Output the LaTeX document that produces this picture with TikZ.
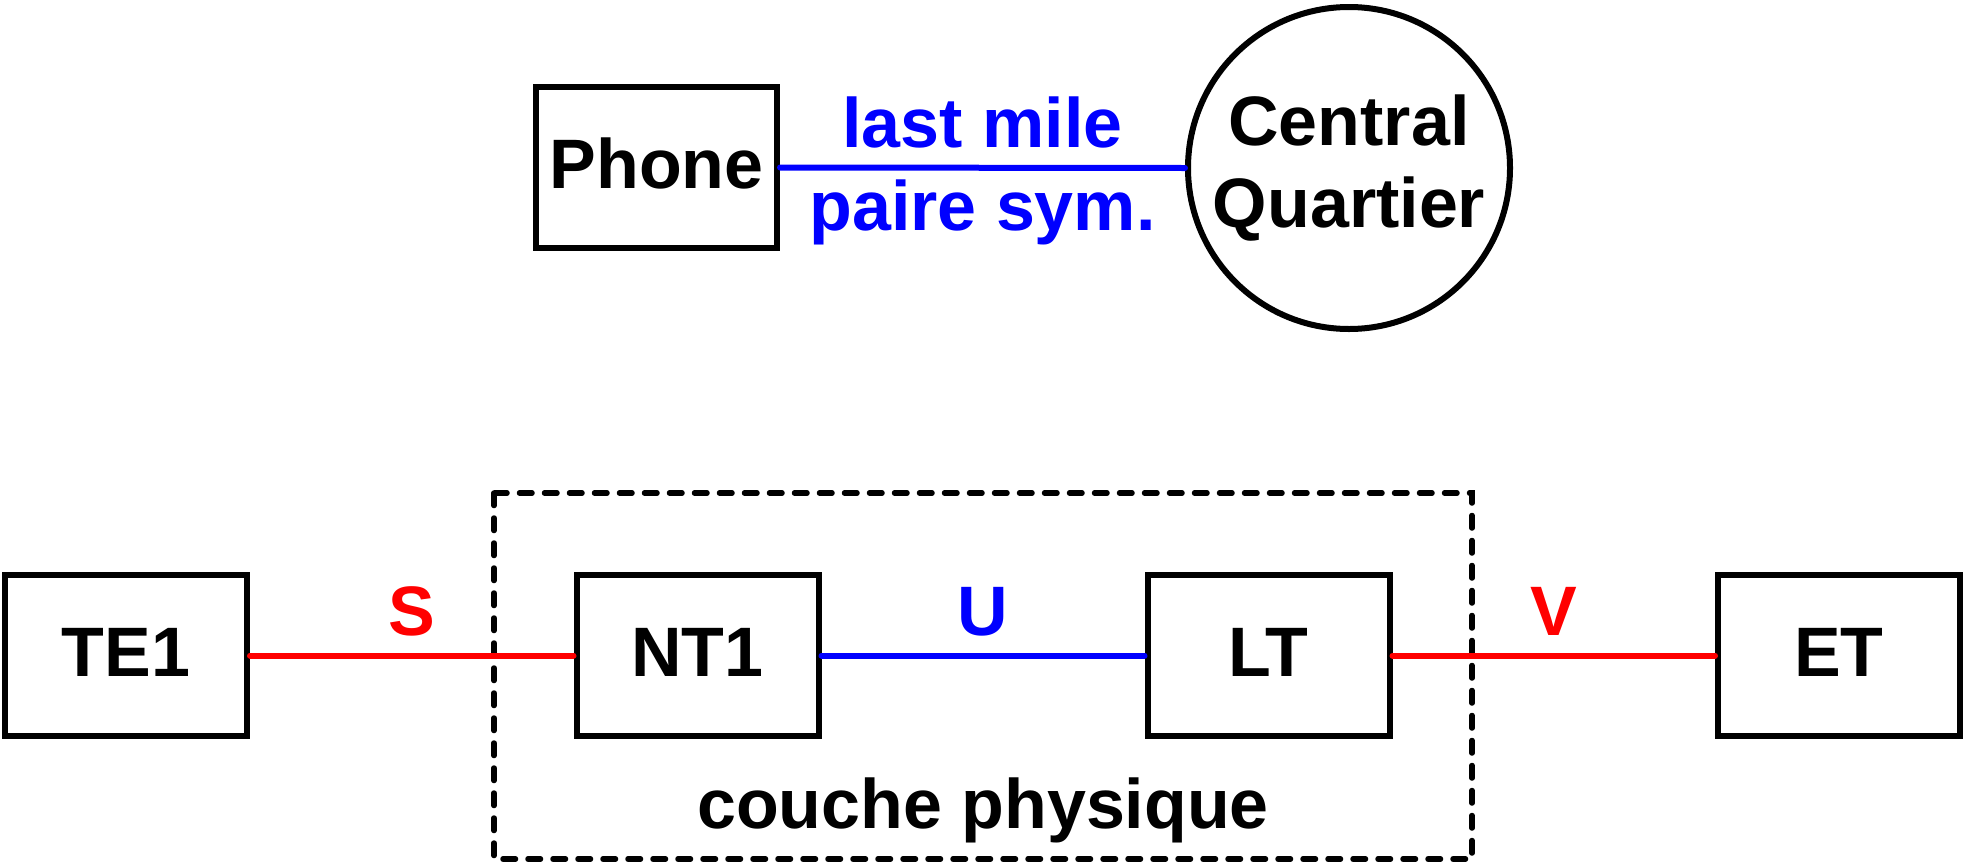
\documentclass[tikz,border=0pt]{standalone}
\usepackage{fontspec}
\setmainfont{Liberation Sans}
\begin{document}
\begin{tikzpicture}[x=1pt,y=-1pt,
  font=\fontsize{70}{82}\selectfont\bfseries,
  boxnode/.style={draw=black,line width=6pt,rectangle,inner sep=0pt,text height=50pt,text depth=8pt},
  circnode/.style={draw=black,line width=6pt,circle,inner sep=0pt,minimum size=322pt,align=center},
  redline/.style={draw={rgb,255:red,255;green,0;blue,0},line width=6pt,line cap=round},
  blueline/.style={draw={rgb,255:red,0;green,0;blue,255},line width=6pt,line cap=round},
  redlbl/.style={text={rgb,255:red,255;green,0;blue,0},anchor=base,inner sep=0pt},
  bluelbl/.style={text={rgb,255:red,0;green,0;blue,255},anchor=base,inner sep=0pt},
  dashbox/.style={draw=black,line width=5.5pt,line cap=round,dash pattern=on 12.5pt off 12.5pt}
]
\useasboundingbox (0,0) rectangle (1964,865);
% top
\node[boxnode,minimum width=241pt,minimum height=161pt] (phone) at (656.5,167.5) {Phone};
\node[circnode] (cq) at (1349,168) {Central\\Quartier};
\draw[blueline] (phone.east) -- (cq.west)
  node[bluelbl,midway,yshift=20pt] (lm) {last mile}
  node[bluelbl,midway,yshift=-63pt] (ps) {paire sym.};
% bottom
\draw[dashbox] (494,493) rectangle (1472,859);
\node[anchor=base,inner sep=0pt] (cp) at (983,828) {couche physique};
\node[boxnode,minimum width=242pt,minimum height=161pt] (te1) at (126,655.5) {TE1};
\node[boxnode,minimum width=242pt,minimum height=161pt] (nt1) at (697.5,655.5) {NT1};
\node[boxnode,minimum width=242pt,minimum height=161pt] (lt) at (1268.5,655.5) {LT};
\node[boxnode,minimum width=242pt,minimum height=161pt] (et) at (1839,655.5) {ET};
\draw[redline] (te1.east) -- (nt1.west) node[redlbl,midway,yshift=20.5pt] (s) {S};
\draw[blueline] (nt1.east) -- (lt.west) node[bluelbl,midway,yshift=20.5pt] (u) {U};
\draw[redline] (lt.east) -- (et.west) node[redlbl,midway,yshift=20.5pt] (v) {V};
\end{tikzpicture}
\end{document}
